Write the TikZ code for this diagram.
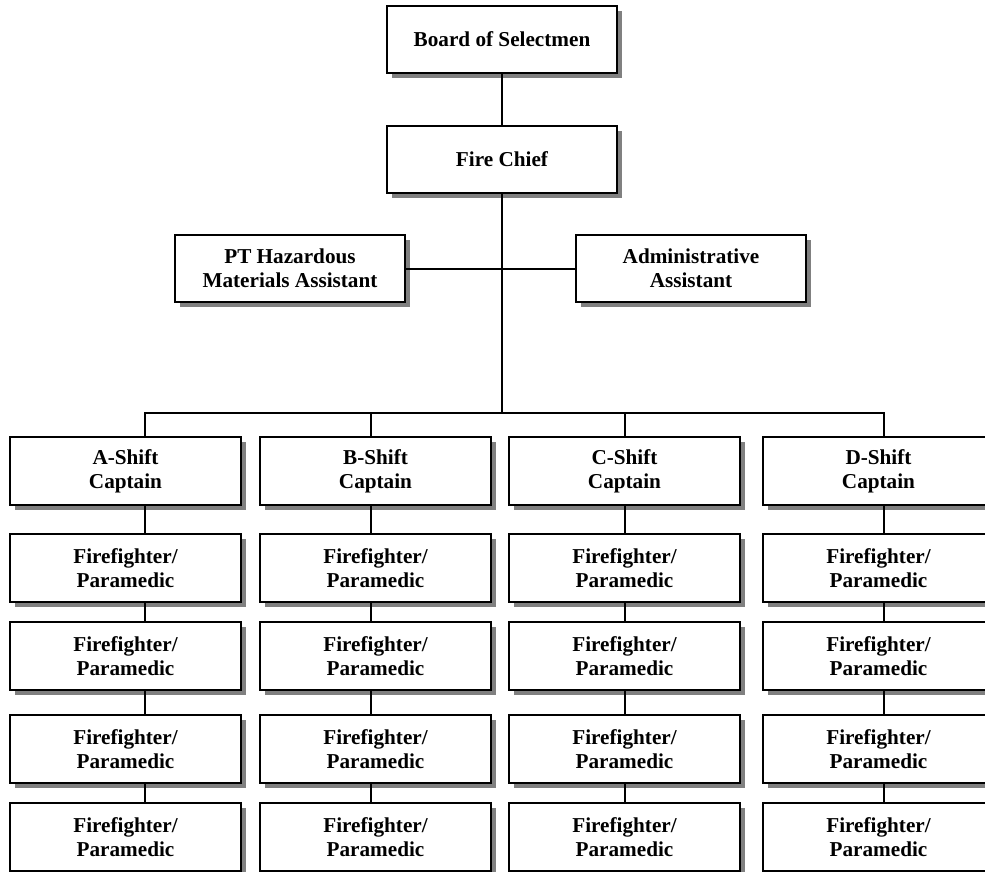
\documentclass[tikz,border=0pt]{standalone}
\usepackage{fontspec}
\setmainfont{Liberation Serif}
\usetikzlibrary{shadows}
\definecolor{shadowgray}{HTML}{808080}
\tikzset{
  orgbox/.style={draw, line width=2pt, fill=white, minimum width=230pt, minimum height=67pt,
    inner sep=0pt, align=center, font=\fontsize{21.2}{24}\selectfont\bfseries,
    drop shadow={shadow xshift=5pt, shadow yshift=-5pt, fill=shadowgray, opacity=1}},
  capbox/.style={orgbox, minimum width=231pt, minimum height=68pt},
  link/.style={line width=2pt, line join=miter}
}
\begin{document}
\begin{tikzpicture}[x=1pt, y=-1pt]
\useasboundingbox (0,0) rectangle (985,871);
\fill[white] (0,0) rectangle (985,871);
% top
\node[orgbox] (board) at (502,39.5) {Board of Selectmen};
\node[orgbox] (chief) at (502,159.5) {Fire Chief};
\node[orgbox] (pt) at (290,268.5) {PT Hazardous\\Materials Assistant};
\node[orgbox] (admin) at (691,268.5) {Administrative\\Assistant};
\coordinate (busT) at (502,413);
\coordinate (busA) at (145,413);
\coordinate (busB) at (371,413);
\coordinate (busC) at (625,413);
\coordinate (busD) at (884,413);
% captains
\node[capbox] (capA) at (125.5,471) {A-Shift\\Captain};
\node[capbox] (capB) at (375.5,471) {B-Shift\\Captain};
\node[capbox] (capC) at (624.5,471) {C-Shift\\Captain};
\node[capbox] (capD) at (878.5,471) {D-Shift\\Captain};
% firefighters
\foreach \c/\x in {A/125.5, B/375.5, C/624.5, D/878.5}{
  \node[capbox] (ff\c1) at (\x,568) {Firefighter/\\Paramedic};
  \node[capbox] (ff\c2) at (\x,656) {Firefighter/\\Paramedic};
  \node[capbox] (ff\c3) at (\x,749) {Firefighter/\\Paramedic};
  \node[capbox] (ff\c4) at (\x,837) {Firefighter/\\Paramedic};
}
% connectors
\draw[link] (board) -- (chief);
\draw[link] (chief) -- (busT);
\draw[link] (pt.east) -- (admin.west);
\draw[link] (capA.north -| busA) -- (busA) -- (busD) -- (capD.north -| busD);
\draw[link] (busB) -- (capB.north -| busB);
\draw[link] (busC) -- (capC.north -| busC);
\foreach \c in {A,B,C,D}{
  \draw[link] (cap\c.south -| bus\c) -- (ff\c1.north -| bus\c);
  \draw[link] (ff\c1.south -| bus\c) -- (ff\c2.north -| bus\c);
  \draw[link] (ff\c2.south -| bus\c) -- (ff\c3.north -| bus\c);
  \draw[link] (ff\c3.south -| bus\c) -- (ff\c4.north -| bus\c);
}
\end{tikzpicture}
\end{document}
